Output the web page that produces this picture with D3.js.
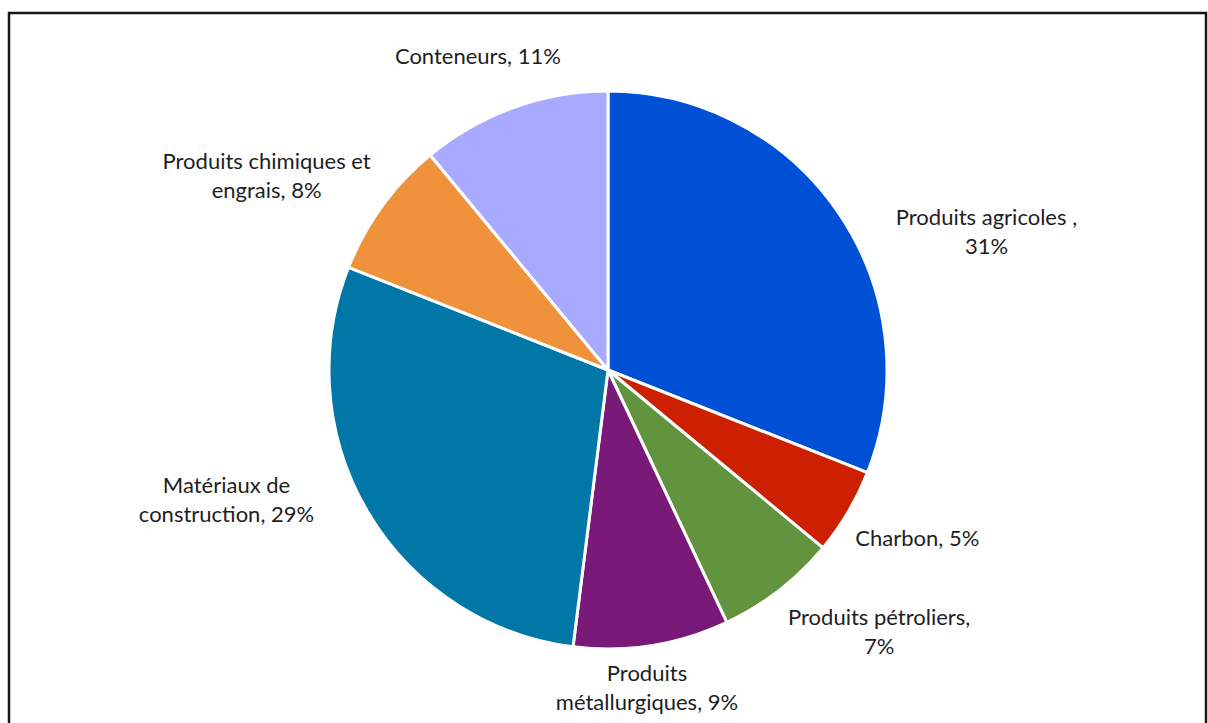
<!DOCTYPE html>
<html>
<head>
<meta charset="utf-8">
<script src="https://cdn.jsdelivr.net/npm/d3@7"></script>
<style>
  body { margin: 0; background: #fff; }
  text { font-family: Lato, "Open Sans", sans-serif; fill: #1e1e1e; }
</style>
</head>
<body>
<svg id="chart" width="1208" height="723"></svg>
<script>
// categories and shares (%), clockwise from 12 o'clock
var categories = ["Produits agricoles ,", "Charbon", "Produits pétroliers,", "Produits métallurgiques",
                  "Matériaux de construction", "Produits chimiques et engrais", "Conteneurs"];
var shares = [31, 5, 7, 9, 29, 8, 11];
var labelLines = [
    ["Produits agricoles ,", "31%"],
    ["Charbon, 5%"],
    ["Produits pétroliers,", "7%"],
    ["Produits", "métallurgiques, 9%"],
    ["Matériaux de", "construction, 29%"],
    ["Produits chimiques et", "engrais, 8%"],
    ["Conteneurs, 11%"]
];
var colors = ["#0050d5", "#cc2000", "#62933f", "#7a1a78", "#0077a6", "#f0913b", "#a8aaff"];

var width = 1208, height = 723;
var cx = 608, cy = 370, radius = 279;

var svg = d3.select("#chart");

// frame
svg.append("rect")
    .attr("x", 9).attr("y", 13)
    .attr("width", 1197).attr("height", 800)
    .attr("fill", "none")
    .attr("stroke", "#161616")
    .attr("stroke-width", 2.5);

var pie = d3.pie().sort(null).value(d => d);
var arcs = pie(shares);
var arc = d3.arc().innerRadius(0).outerRadius(radius);

var g = svg.append("g").attr("transform", `translate(${cx},${cy})`);

g.selectAll("path")
    .data(arcs)
    .join("path")
    .attr("d", arc)
    .attr("fill", (d, i) => colors[i])
    .attr("stroke", "#fff")
    .attr("stroke-width", 3)
    .attr("stroke-linejoin", "round");

// label placement like Excel's best fit: angle nudge (deg) and distance from centre
var labelNudge = [[14.1, 403], [-2.1, 352], [-8.2, 377], [2, 320], [11.8, 403], [-6.3, 393], [-2.7, 340]];
var fontSize = 22, lineHeight = 29;

var labels = g.selectAll("g.label")
    .data(arcs)
    .join("g")
    .attr("class", "label")
    .attr("transform", function(d, i) {
        var a = (d.startAngle + d.endAngle) / 2 + labelNudge[i][0] * Math.PI / 180;
        var r = labelNudge[i][1];
        return `translate(${r * Math.sin(a)},${-r * Math.cos(a)})`;
    });

labels.each(function(d, i) {
    var lines = labelLines[i];
    var t = d3.select(this).append("text")
        .attr("text-anchor", "middle")
        .style("font-size", fontSize + "px");
    lines.forEach(function(line, j) {
        t.append("tspan")
            .attr("x", 0)
            .attr("y", (j - (lines.length - 1) / 2) * lineHeight + fontSize * 0.36)
            .text(line);
    });
});
</script>
</body>
</html>
